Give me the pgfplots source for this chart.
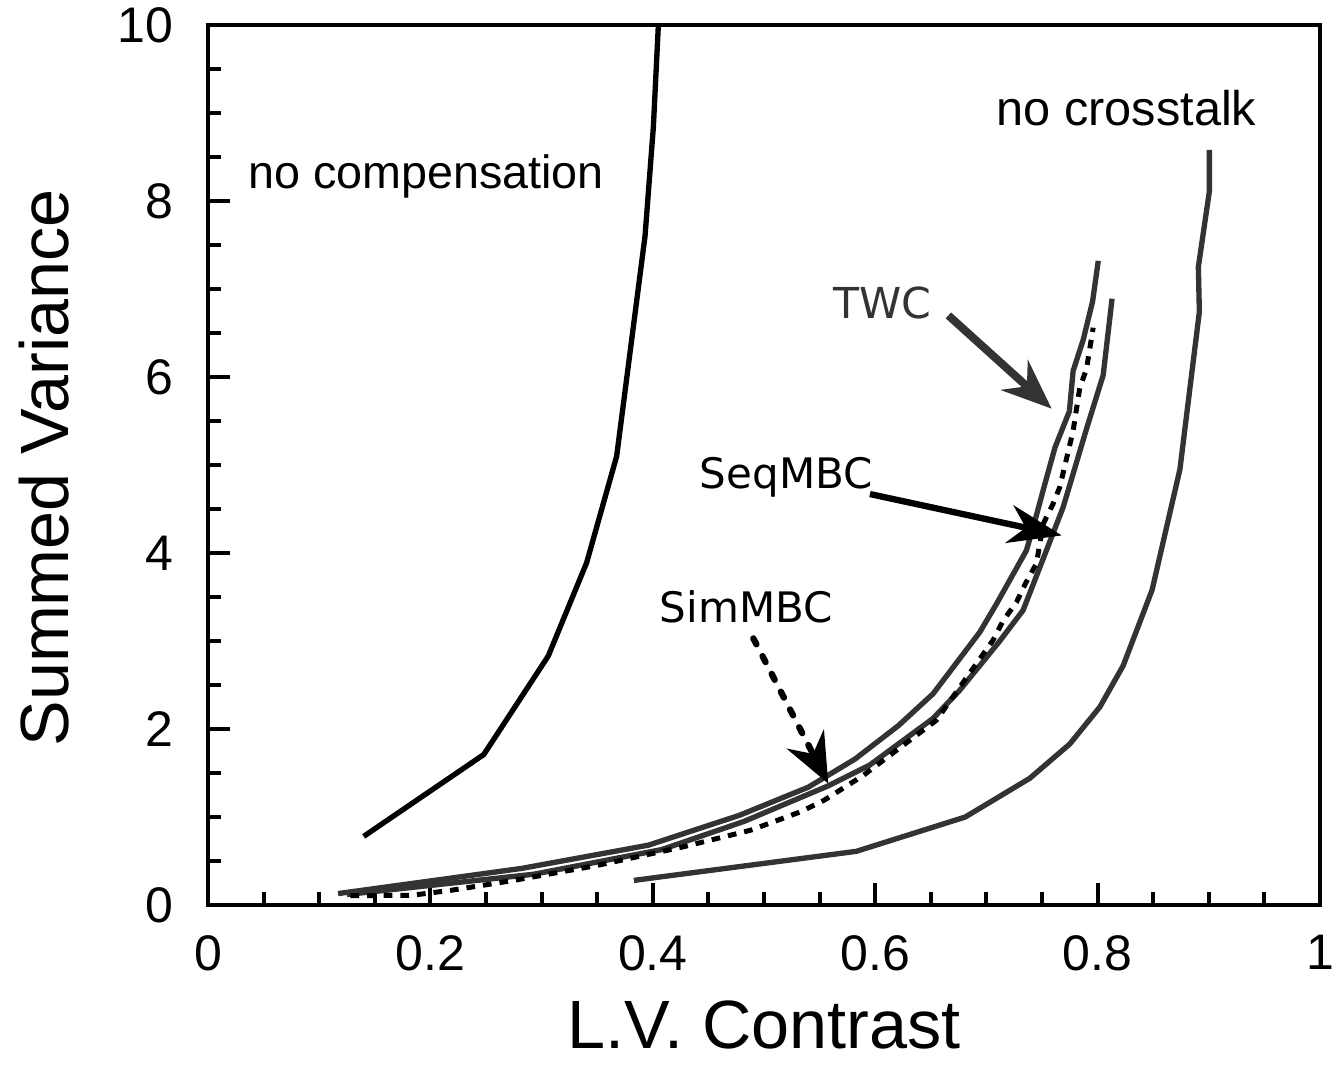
\documentclass[border=0pt]{standalone}
\usepackage{fontspec}
\setmainfont{Liberation Sans}
\newfontfamily\dvs{DejaVu Sans}
\usepackage{pgfplots}
\pgfplotsset{compat=1.18}
\usetikzlibrary{arrows.meta}
\definecolor{dg}{HTML}{333333}
\begin{document}
\begin{tikzpicture}
\begin{axis}[
 scale only axis, width=333.6pt, height=264pt,
 xmin=0, xmax=1, ymin=0, ymax=10,
 xtick={0,0.2,0.4,0.6,0.8,1}, ytick={0,2,4,6,8,10},
 minor x tick num=3, minor y tick num=3,
 tick pos=left, tick align=inside,
 major tick length=6.6pt, minor tick length=3.8pt,
 every tick/.style={black, line width=1.2pt},
 axis line style={line width=1.4pt},
 /pgf/number format/assume math mode=true,
 ticklabel style={font=\fontsize{15}{17}\selectfont},
 xticklabel style={yshift=-5.5pt},
 yticklabel style={xshift=-7pt},
 xlabel={L.V. Contrast}, ylabel={Summed Variance},
 label style={font=\fontsize{20.5}{24}\selectfont, inner sep=0pt},
 xlabel style={at={(axis description cs:0.5,-0.108)}, anchor=north},
 ylabel style={at={(axis description cs:-0.171,0.4966)}, anchor=north},
]
% no compensation
\addplot[black, line width=1.6pt] coordinates {
 (0.140,0.78) (0.248,1.71) (0.306,2.83) (0.3405,3.89) (0.3675,5.10)
 (0.393,7.6) (0.4005,8.84) (0.405,10.0)};
% TWC (left solid)
\addplot[dg, line width=1.6pt] coordinates {
 (0.117,0.13) (0.282,0.416) (0.396,0.68) (0.478,1.02) (0.540,1.34)
 (0.582,1.66) (0.621,2.04) (0.652,2.40) (0.694,3.10) (0.709,3.42)
 (0.736,4.03) (0.7437,4.37) (0.7527,4.79) (0.7617,5.20) (0.7746,5.61)
 (0.778,6.07) (0.787,6.42) (0.7955,6.86) (0.8006,7.32)};
% SeqMBC (right solid)
\addplot[dg, line width=1.6pt] coordinates {
 (0.125,0.12) (0.293,0.35) (0.408,0.63) (0.482,0.95) (0.557,1.35)
 (0.595,1.59) (0.652,2.12) (0.676,2.44) (0.712,3.0) (0.733,3.35)
 (0.754,4.03) (0.769,4.52) (0.790,5.41) (0.805,6.02) (0.813,6.89)};
% SimMBC (dotted)
\addplot[black, line width=1.5pt, dash pattern=on 2.6pt off 2.4pt] coordinates {
 (0.128,0.106) (0.183,0.11) (0.22,0.17) (0.275,0.28) (0.35,0.45)
 (0.427,0.66) (0.488,0.85) (0.533,1.06) (0.554,1.19) (0.589,1.47)
 (0.655,2.10) (0.706,3.01) (0.715,3.23) (0.727,3.44) (0.735,3.65)
 (0.745,3.88) (0.751,4.33) (0.760,4.56) (0.766,4.75) (0.778,5.39)
 (0.784,5.88) (0.790,6.09) (0.796,6.56)};
% no crosstalk
\addplot[dg, line width=1.6pt] coordinates {
 (0.383,0.28) (0.583,0.61) (0.681,1.00) (0.739,1.44) (0.775,1.83)
 (0.802,2.25) (0.823,2.72) (0.849,3.58) (0.874,4.95) (0.8915,6.74)
 (0.8906,7.25) (0.9005,8.11) (0.9005,8.58)};
% outward halves of the major ticks
\pgfplotsinvokeforeach{0,0.2,0.4,0.6,0.8,1}{\draw[line width=1.2pt] (axis cs:#1,0) -- ++(0,-6.3pt);}
\pgfplotsinvokeforeach{0,2,4,6,8,10}{\draw[line width=1.2pt] (axis cs:0,#1) -- ++(-6pt,0);}
% texts
\node[font=\fontsize{14}{16}\selectfont, anchor=base] at (axis cs:0.196,8.14) {no compensation};
\node[font=\fontsize{14.6}{16}\selectfont, anchor=base] at (axis cs:0.826,8.86) {no crosstalk};
\node[font=\dvs\fontsize{12.8}{14}\selectfont, text=dg, anchor=base] at (axis cs:0.6066,6.66) {TWC};
\node[font=\dvs\fontsize{12.6}{14}\selectfont, anchor=base] at (axis cs:0.520,4.73) {SeqMBC};
\node[font=\dvs\fontsize{12.6}{14}\selectfont, anchor=base] at (axis cs:0.484,3.21) {SimMBC};
% arrows
\draw[dg, line width=2.4pt, -{Stealth[length=15pt,width=12pt,inset=5pt]}] (axis cs:0.6658,6.70) -- (axis cs:0.7587,5.64);
\draw[black, line width=1.9pt, -{Stealth[length=16pt,width=11.5pt,inset=5pt]}] (axis cs:0.5953,4.67) -- (axis cs:0.7677,4.20);
\draw[black, line width=1.9pt, line cap=round, dash pattern=on 2pt off 4pt, -{Stealth[length=15pt,width=12.5pt,inset=5pt]}] (axis cs:0.4904,3.03) -- (axis cs:0.5578,1.38);
\end{axis}
\pgfresetboundingbox
\path ([shift={(-62.4pt,-48pt)}]current axis.south west) rectangle ([shift={(5.1pt,7.5pt)}]current axis.north east);
\end{tikzpicture}
\end{document}
